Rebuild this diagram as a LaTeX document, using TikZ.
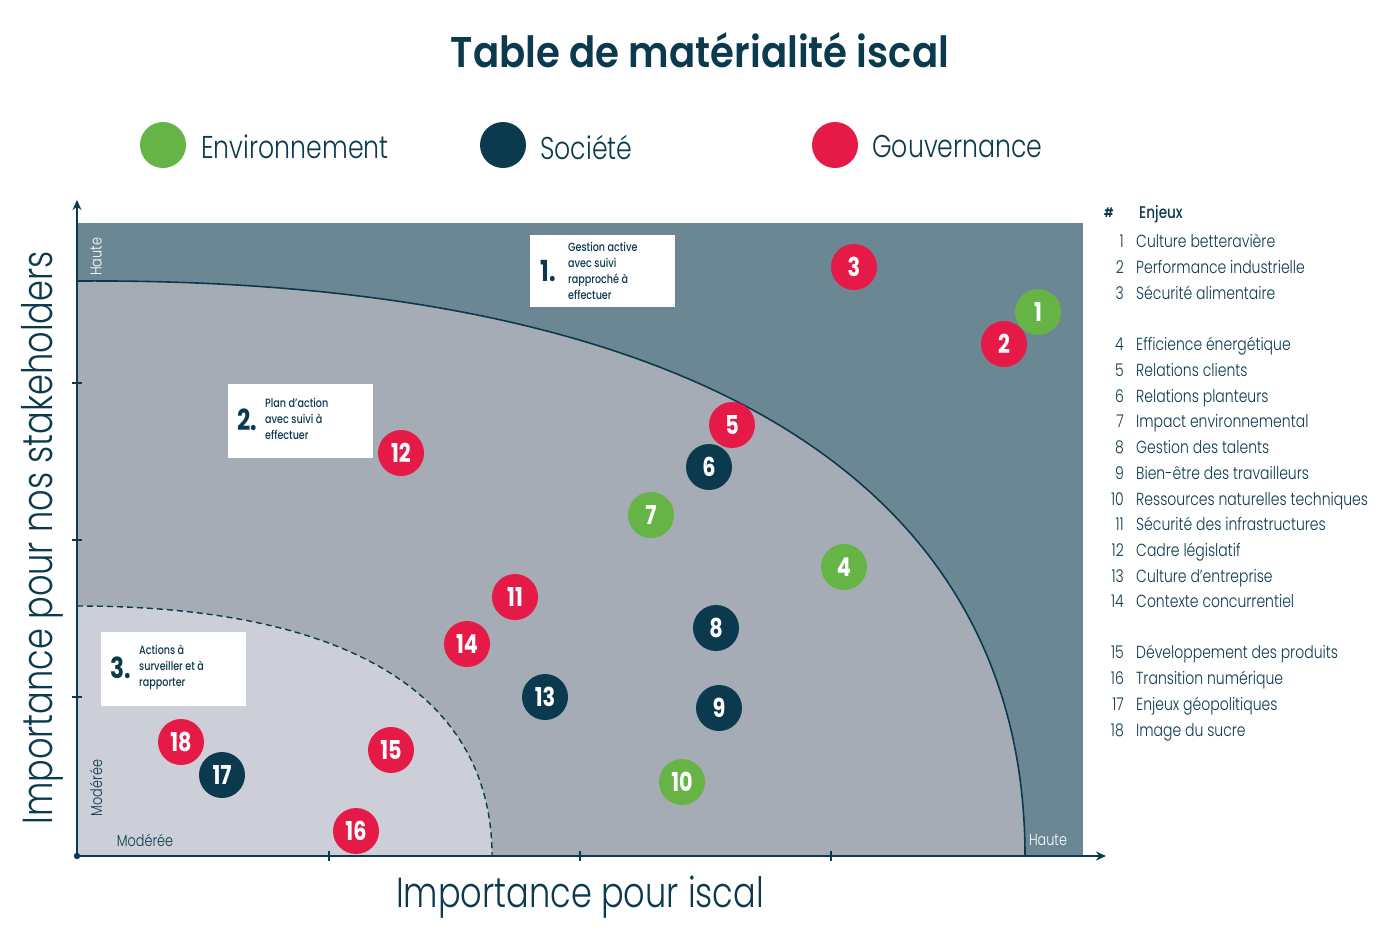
\documentclass[tikz,border=0pt]{standalone}
\usepackage{fontspec}
\setmainfont{Poppins}[FakeStretch=0.8]
\newfontfamily\lightfont{Poppins Light}[FakeStretch=0.8]
\newfontfamily\titlefont{Poppins SemiBold}[FakeStretch=0.9]
\newfontfamily\medfont{Poppins Medium}[FakeStretch=0.8]
\usetikzlibrary{arrows.meta}
\definecolor{navy}{HTML}{0B3A4E}
\definecolor{grn}{HTML}{66B446}
\definecolor{rd}{HTML}{E51A46}
\definecolor{darkreg}{HTML}{6C8794}
\definecolor{midreg}{HTML}{A6ACB5}
\definecolor{lightreg}{HTML}{CCCFD7}
\tikzset{
  bub/.style={circle, minimum size=46pt, inner sep=0pt, text=white, font=\fontsize{26}{26}\selectfont\bfseries},
  legdot/.style={circle, minimum size=46pt, inner sep=0pt},
  legtxt/.style={anchor=west, inner sep=0pt, text=navy, font=\lightfont\fontsize{31.5}{31.5}\selectfont},
  tnum/.style={anchor=base east, inner sep=0pt, text=navy, font=\lightfont\fontsize{17.5}{17.5}\selectfont},
  ttxt/.style={anchor=base west, inner sep=0pt, text=navy, font=\lightfont\fontsize{17.5}{17.5}\selectfont},
  boxnum/.style={inner sep=0pt, text=navy, font=\fontsize{29}{29}\selectfont\bfseries},
  boxtxt/.style={anchor=west, inner sep=0pt, text=navy, align=left, font=\medfont\fontsize{12}{16}\selectfont},
  infobox/.style={fill=white, draw=none},
  axis/.style={draw=navy, line width=2.6pt},
  tick/.style={draw=navy, line width=2pt},
  axlbl/.style={inner sep=0pt, font=\lightfont\fontsize{16}{16}\selectfont},
  bigtitle/.style={text=navy, font=\lightfont\fontsize{42}{42}\selectfont},
}
\begin{document}
\begin{tikzpicture}[x=1pt,y=-1pt]
\useasboundingbox (0,0) rectangle (1391,932);
% title
\node[text=navy, font=\titlefont\fontsize{43}{43}\selectfont] (title) at (700,50) {Table de matérialité iscal};
% legend
\node[legdot, fill=grn] (lg1) at (163,145) {};
\node[legtxt] (lt1) at (201,147) {Environnement};
\node[legdot, fill=navy] (lg2) at (503,145) {};
\node[legtxt] (lt2) at (540,147) {Société};
\node[legdot, fill=rd] (lg3) at (835,145) {};
\node[legtxt] (lt3) at (872,147) {Gouvernance};
% regions
\fill[darkreg] (77,223) rectangle (1083,856);
\fill[midreg] (77,856) -- (77,281) .. controls (693,277) and (1025,482) .. (1025,856) -- cycle;
\draw[navy, line width=1.6pt] (77,281) .. controls (693,277) and (1025,482) .. (1025,856);
\fill[lightreg] (77,856) -- (77,606) .. controls (347,606) and (492,694) .. (492,856) -- cycle;
\draw[navy, line width=1.4pt, dash pattern=on 6pt off 4pt] (77,606) .. controls (347,606) and (492,694) .. (492,856);
% axes
\coordinate (O) at (77,856);
\coordinate (ytop) at (77,200);
\coordinate (xend) at (1106,856);
\draw[axis, -{Stealth[length=10pt,width=9pt]}] (O) -- (ytop);
\draw[axis, -{Stealth[length=10pt,width=9pt]}] (O) -- (xend);
\fill[navy] (O) circle (3.2pt);
\foreach \yy in {383,540,697} {\draw[tick] (72,\yy) -- (82,\yy);}
\foreach \xx in {329,580,831} {\draw[tick] (\xx,851) -- (\xx,861);}
% axis labels
\node[axlbl, text=white, rotate=90] (hy) at (96,257) {Haute};
\node[axlbl, text=navy, rotate=90] (my) at (96,788) {Modérée};
\node[axlbl, text=navy] (mx) at (145,840) {Modérée};
\node[axlbl, text=white] (hx) at (1048,840) {Haute};
\node[bigtitle, rotate=90] (ytitle) at (42,538) {Importance pour nos stakeholders};
\node[bigtitle] (xtitle) at (580,897) {Importance pour iscal};
% info boxes
\fill[infobox] (530,235) rectangle (675,307);
\node[boxnum] (b1n) at (548,271) {1.};
\node[boxtxt] (b1t) at (568,271) {Gestion active\\avec suivi\\rapproché à\\effectuer};
\fill[infobox] (228,384) rectangle (373,458);
\node[boxnum] (b2n) at (247,420) {2.};
\node[boxtxt] (b2t) at (265,419) {Plan d’action\\avec suivi à\\effectuer};
\fill[infobox] (101,632) rectangle (246,706);
\node[boxnum] (b3n) at (121,668) {3.};
\node[boxtxt] (b3t) at (139,667) {Actions à\\surveiller et à\\rapporter};
% bubbles
\node[bub, fill=grn] (c1) at (1038,312) {1};
\node[bub, fill=rd] (c2) at (1004,344) {2};
\node[bub, fill=rd] (c3) at (854,267) {3};
\node[bub, fill=grn] (c4) at (844,567) {4};
\node[bub, fill=rd] (c5) at (732,425) {5};
\node[bub, fill=navy] (c6) at (709,467) {6};
\node[bub, fill=grn] (c7) at (651,515) {7};
\node[bub, fill=navy] (c8) at (716,628) {8};
\node[bub, fill=navy] (c9) at (719,708) {9};
\node[bub, fill=grn] (c10) at (682,782) {10};
\node[bub, fill=rd] (c11) at (515,597) {11};
\node[bub, fill=rd] (c12) at (401,453) {12};
\node[bub, fill=navy] (c13) at (545,697) {13};
\node[bub, fill=rd] (c14) at (467,644) {14};
\node[bub, fill=rd] (c15) at (391,750) {15};
\node[bub, fill=rd] (c16) at (356,831) {16};
\node[bub, fill=navy] (c17) at (222,775) {17};
\node[bub, fill=rd] (c18) at (181,742) {18};
% table
\node[inner sep=0pt, text=navy, anchor=base west, font=\fontsize{13}{13}\selectfont\bfseries] (thash) at (1104,217) {\#};
\node[inner sep=0pt, text=navy, anchor=base west, font=\medfont\fontsize{17}{17}\selectfont] (thead) at (1139,218) {Enjeux};
\foreach \n/\yy/\t in {1/241/Culture betteravière, 2/267/Performance industrielle, 3/293/Sécurité alimentaire,
  4/344/Efficience énergétique, 5/370/Relations clients, 6/396/Relations planteurs, 7/421/Impact environnemental,
  8/447/Gestion des talents, 9/473/Bien-être des travailleurs, 10/499/Ressources naturelles techniques,
  11/524/Sécurité des infrastructures, 12/550/Cadre législatif, 13/576/Culture d’entreprise, 14/601/Contexte concurrentiel,
  15/652/Développement des produits, 16/678/Transition numérique, 17/704/Enjeux géopolitiques, 18/730/Image du sucre} {
  \node[tnum] (n\n) at (1124,\yy+6.5) {\n};
  \node[ttxt] (t\n) at (1136,\yy+6.5) {\t};
}
\end{tikzpicture}
\end{document}
